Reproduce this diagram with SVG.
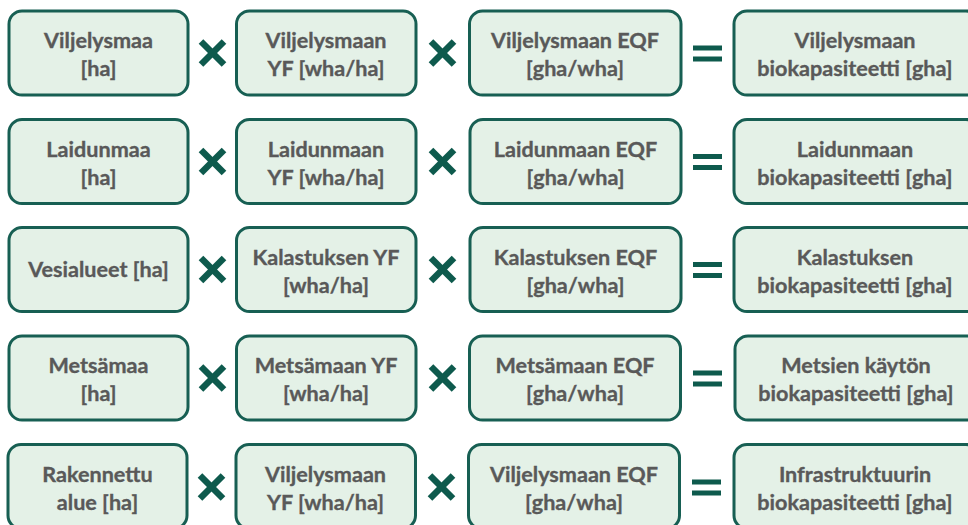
<svg xmlns="http://www.w3.org/2000/svg" width="968" height="525" viewBox="0 0 968 525">
<style>
.box{fill:#e4f1e7;stroke:#175f53;stroke-width:3}
.t{font-family:Lato,"Open Sans","Liberation Sans",sans-serif;font-weight:bold;font-size:21.6px;fill:#595959;stroke:#595959;stroke-width:0.35;text-anchor:middle}
.x{stroke:#0e5a4d;stroke-width:6.5;fill:none}
.eq{fill:#0e5a4d}
</style>
<defs>
<g id="times"><line class="x" x1="-11.5" y1="-11.5" x2="11.5" y2="11.5"/><line class="x" x1="-11.5" y1="11.5" x2="11.5" y2="-11.5"/></g>
<g id="equals"><rect class="eq" x="-14.5" y="-7.5" width="29" height="5"/><rect class="eq" x="-14.5" y="3.5" width="29" height="5"/></g>
</defs>

<g id="row1" transform="translate(0,0)">
<g id="n1a"><rect class="box" x="9" y="11" width="179" height="84" rx="13"/><text class="t" x="98.5" y="48">Viljelysmaa</text><text class="t" x="98.5" y="76">[ha]</text></g>
<g id="n1b"><rect class="box" x="236.5" y="11" width="179.5" height="84" rx="13"/><text class="t" x="326" y="48">Viljelysmaan</text><text class="t" x="326" y="76">YF [wha/ha]</text></g>
<g id="n1c"><rect class="box" x="469.5" y="11" width="211.5" height="84" rx="13"/><text class="t" x="575" y="48">Viljelysmaan EQF</text><text class="t" x="575" y="76">[gha/wha]</text></g>
<g id="n1d"><rect class="box" x="734" y="11" width="245" height="84" rx="13"/><text class="t" x="855" y="48">Viljelysmaan</text><text class="t" x="855" y="76">biokapasiteetti [gha]</text></g>
</g>

<g id="row2" transform="translate(0,108.5)">
<g id="n2a"><rect class="box" x="9" y="11" width="179" height="84" rx="13"/><text class="t" x="98.5" y="48">Laidunmaa</text><text class="t" x="98.5" y="76">[ha]</text></g>
<g id="n2b"><rect class="box" x="236.5" y="11" width="179.5" height="84" rx="13"/><text class="t" x="326" y="48">Laidunmaan</text><text class="t" x="326" y="76">YF [wha/ha]</text></g>
<g id="n2c"><rect class="box" x="470" y="11" width="211" height="84" rx="13"/><text class="t" x="575.5" y="48">Laidunmaan EQF</text><text class="t" x="575.5" y="76">[gha/wha]</text></g>
<g id="n2d"><rect class="box" x="734" y="11" width="245" height="84" rx="13"/><text class="t" x="855" y="48">Laidunmaan</text><text class="t" x="855" y="76">biokapasiteetti [gha]</text></g>
</g>

<g id="row3" transform="translate(0,216.5)">
<g id="n3a"><rect class="box" x="9" y="11" width="179" height="84" rx="13"/><text class="t" x="98.5" y="60">Vesialueet [ha]</text></g>
<g id="n3b"><rect class="box" x="236.5" y="11" width="179.5" height="84" rx="13"/><text class="t" x="326" y="48">Kalastuksen YF</text><text class="t" x="326" y="76">[wha/ha]</text></g>
<g id="n3c"><rect class="box" x="470" y="11" width="211" height="84" rx="13"/><text class="t" x="575.5" y="48">Kalastuksen EQF</text><text class="t" x="575.5" y="76">[gha/wha]</text></g>
<g id="n3d"><rect class="box" x="734" y="11" width="245" height="84" rx="13"/><text class="t" x="855" y="48">Kalastuksen</text><text class="t" x="855" y="76">biokapasiteetti [gha]</text></g>
</g>

<g id="row4" transform="translate(0,325)">
<g id="n4a"><rect class="box" x="9" y="11" width="179" height="84" rx="13"/><text class="t" x="98.5" y="48">Metsämaa</text><text class="t" x="98.5" y="76">[ha]</text></g>
<g id="n4b"><rect class="box" x="236.5" y="11" width="179.5" height="84" rx="13"/><text class="t" x="326" y="48">Metsämaan YF</text><text class="t" x="326" y="76">[wha/ha]</text></g>
<g id="n4c"><rect class="box" x="469.5" y="11" width="211" height="84" rx="13"/><text class="t" x="575" y="48">Metsämaan EQF</text><text class="t" x="575" y="76">[gha/wha]</text></g>
<g id="n4d"><rect class="box" x="735" y="11" width="245" height="84" rx="13"/><text class="t" x="856" y="48">Metsien käytön</text><text class="t" x="856" y="76">biokapasiteetti [gha]</text></g>
</g>

<g id="row5" transform="translate(0,433.5)">
<g id="n5a"><rect class="box" x="8" y="11" width="179" height="84" rx="13"/><text class="t" x="97.5" y="48">Rakennettu</text><text class="t" x="97.5" y="76">alue [ha]</text></g>
<g id="n5b"><rect class="box" x="236" y="11" width="179.5" height="84" rx="13"/><text class="t" x="325.5" y="48">Viljelysmaan</text><text class="t" x="325.5" y="76">YF [wha/ha]</text></g>
<g id="n5c"><rect class="box" x="468.5" y="11" width="211" height="84" rx="13"/><text class="t" x="574" y="48">Viljelysmaan EQF</text><text class="t" x="574" y="76">[gha/wha]</text></g>
<g id="n5d"><rect class="box" x="734" y="11" width="245" height="84" rx="13"/><text class="t" x="855" y="48">Infrastruktuurin</text><text class="t" x="855" y="76">biokapasiteetti [gha]</text></g>
</g>

<g id="operators">
<use href="#times" x="212.5" y="53"/><use href="#times" x="442.5" y="53"/><use href="#equals" x="707.5" y="53"/>
<use href="#times" x="212.5" y="161.5"/><use href="#times" x="442.5" y="161.5"/><use href="#equals" x="707.5" y="161.5"/>
<use href="#times" x="212.5" y="269.5"/><use href="#times" x="442.5" y="269.5"/><use href="#equals" x="707.5" y="269.5"/>
<use href="#times" x="212.5" y="378"/><use href="#times" x="442.5" y="378"/><use href="#equals" x="707.5" y="378"/>
<use href="#times" x="211.5" y="487"/><use href="#times" x="441.5" y="487"/><use href="#equals" x="706.5" y="487"/>
</g>
</svg>
